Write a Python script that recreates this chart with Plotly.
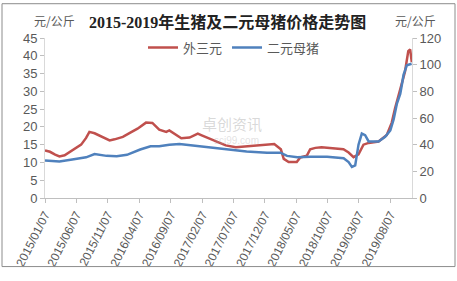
import plotly.graph_objects as go

# 外三元 (left axis, 元/公斤)
red_dates = ["2015-01-07","2015-01-31","2015-02-25","2015-03-18","2015-04-12","2015-05-07","2015-05-30",
             "2015-07-01","2015-07-25","2015-08-10","2015-09-04","2015-10-07","2015-11-16","2015-12-10",
             "2016-01-19","2016-02-22","2016-03-30","2016-05-10","2016-06-10","2016-07-13","2016-08-16",
             "2016-08-31","2016-10-04","2016-10-28","2016-12-07","2017-01-16","2017-02-01","2017-03-28",
             "2017-05-07","2017-05-31","2017-07-19","2017-09-22","2017-11-10","2017-12-28","2018-01-21",
             "2018-02-22","2018-03-08","2018-04-01","2018-05-10","2018-05-27","2018-06-28","2018-07-14",
             "2018-08-08","2018-09-07","2018-11-12","2018-12-22","2019-01-16","2019-02-09","2019-03-05",
             "2019-03-29","2019-04-23","2019-06-10","2019-07-20","2019-08-13","2019-08-29","2019-09-14",
             "2019-09-30","2019-10-16","2019-11-01","2019-11-10","2019-11-18"]
red_vals = [13.4,13.0,12.2,11.7,12.0,13.0,13.9,
            15.0,16.9,18.6,18.2,17.2,16.2,16.5,
            17.2,18.3,19.5,21.2,21.1,19.2,18.6,
            19.0,17.7,16.8,17.0,18.1,17.7,16.3,
            15.5,14.8,14.3,14.6,14.8,15.0,15.2,
            13.7,11.0,10.1,10.1,11.4,11.9,13.7,
            14.1,14.3,13.9,13.7,12.8,11.5,12.3,
            15.0,15.5,15.9,17.7,21.2,25.2,28.4,
            32.0,35.5,41.3,41.8,38.2]

# 二元母猪 (right axis, 元/公斤)
blue_dates = ["2015-01-07","2015-03-18","2015-05-19","2015-07-25","2015-09-04","2015-11-01","2015-12-20",
              "2016-02-08","2016-04-12","2016-06-01","2016-07-13","2016-08-31","2016-10-19","2017-01-25",
              "2017-05-03","2017-06-21","2017-09-09","2017-12-17","2018-02-20","2018-03-24","2018-05-13",
              "2018-07-16","2018-10-04","2018-12-23","2019-01-16","2019-02-01","2019-02-17","2019-03-05",
              "2019-03-21","2019-04-06","2019-04-23","2019-06-10","2019-07-12","2019-08-06","2019-08-22",
              "2019-09-07","2019-09-23","2019-10-01","2019-10-09","2019-10-25","2019-11-17"]
blue_vals = [28.1,27.4,28.8,30.5,32.9,31.6,31.4,
             32.4,36.4,38.8,38.8,40.0,40.5,38.8,
             37.1,35.7,34.8,34.0,34.0,31.6,30.5,
             31.0,31.0,29.8,26.9,23.3,24.5,40.0,
             48.3,47.1,42.4,42.4,45.9,50.7,59.0,
             70.9,78.0,85.0,92.3,99.5,100.7]

tick_dates = ["2015-01-07","2015-06-07","2015-11-07","2016-04-07","2016-09-07","2017-02-07",
              "2017-07-07","2017-12-07","2018-05-07","2018-10-07","2019-03-07","2019-08-07"]
tick_text = [d.replace("-", "/") for d in tick_dates]

RED = "#C0504D"
BLUE = "#4F81BD"
GRAY = "#595959"

fig = go.Figure()
fig.add_trace(go.Scatter(x=red_dates, y=red_vals, name="外三元", mode="lines",
                         line=dict(color=RED, width=2.5)))
fig.add_trace(go.Scatter(x=blue_dates, y=blue_vals, name="二元母猪", mode="lines",
                         line=dict(color=BLUE, width=2.5), yaxis="y2"))

W, H = 457, 281
L, R, T, B = 45, 45, 38, 75
pw, ph = W - L - R, H - T - B

def px(x):
    return (x - L) / pw

def py(y):
    return (H - B - y) / ph

fig.update_layout(
    width=W, height=H,
    margin=dict(l=L, r=R, t=T, b=B),
    paper_bgcolor="white", plot_bgcolor="white",
    font=dict(family="Liberation Sans, Noto Sans CJK SC", color=GRAY, size=12),
    showlegend=True,
    legend=dict(orientation="h", x=px(234), y=py(48), xanchor="center", yanchor="middle",
                bgcolor="rgba(0,0,0,0)", font=dict(size=13, family="Noto Sans CJK SC", color=GRAY),
                itemwidth=30, tracegroupgap=0),
    xaxis=dict(type="date", range=["2015-01-07", "2019-11-19"],
               tickvals=tick_dates, ticktext=tick_text, tickangle=-63,
               showgrid=False, showline=True, linecolor="#bfbfbf", linewidth=1,
               ticks="outside", ticklen=4, tickcolor="#bfbfbf",
               tickfont=dict(size=12, color=GRAY), zeroline=False),
    yaxis=dict(range=[0, 45], tickvals=list(range(0, 46, 5)), showgrid=False,
               showline=True, linecolor="#d9d9d9", ticks="outside", ticklen=4,
               tickcolor="#bfbfbf", tickfont=dict(size=13, color=GRAY), zeroline=False),
    yaxis2=dict(range=[0, 120], tickvals=list(range(0, 121, 20)), overlaying="y", side="right",
                showgrid=False, showline=True, linecolor="#d9d9d9", ticks="outside", ticklen=4,
                tickcolor="#bfbfbf", tickfont=dict(size=13, color=GRAY), zeroline=False),
    annotations=[
        dict(text="<b>2015-2019年生猪及二元母猪价格走势图</b>", x=px(227), y=py(21),
             xref="paper", yref="paper", showarrow=False, xanchor="center", yanchor="middle",
             font=dict(size=16, family="Liberation Serif, Noto Sans CJK SC", color="#222222")),
        dict(text="元/公斤", x=px(54), y=py(20), xref="paper", yref="paper", showarrow=False,
             xanchor="center", yanchor="middle",
             font=dict(size=12, family="Noto Sans CJK SC", color=GRAY)),
        dict(text="元/公斤", x=px(415), y=py(20), xref="paper", yref="paper", showarrow=False,
             xanchor="center", yanchor="middle",
             font=dict(size=12, family="Noto Sans CJK SC", color=GRAY)),
        dict(text="卓创资讯", x=px(232), y=py(128), xref="paper", yref="paper", showarrow=False,
             xanchor="center", yanchor="middle",
             font=dict(size=15, family="Noto Sans CJK SC", color="rgba(170,170,170,0.45)")),
        dict(text="sci99.com", x=px(236), y=py(146), xref="paper", yref="paper", showarrow=False,
             xanchor="center", yanchor="middle",
             font=dict(size=10, family="Liberation Sans", color="rgba(170,170,170,0.35)")),
    ],
    shapes=[
        dict(type="rect", xref="paper", yref="paper", x0=px(2), x1=px(455), y0=py(278), y1=py(2),
             line=dict(color="#8c8c8c", width=1), fillcolor="rgba(0,0,0,0)"),
    ],
)

fig.write_html("out.html")
